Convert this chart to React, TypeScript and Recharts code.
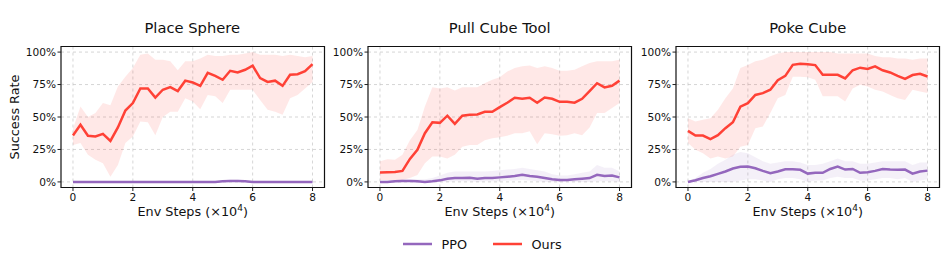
import { Area, CartesianGrid, ComposedChart, Line, ReferenceArea, XAxis, YAxis } from 'recharts'

const steps = [0, 0.25, 0.5, 0.75, 1, 1.25, 1.5, 1.75, 2, 2.25, 2.5, 2.75, 3, 3.25, 3.5, 3.75, 4, 4.25, 4.5, 4.75, 5, 5.25, 5.5, 5.75, 6, 6.25, 6.5, 6.75, 7, 7.25, 7.5, 7.75, 8]
const xTicks = [0, 2, 4, 6, 8]
const yTicks = [0, 25, 50, 75, 100]
const titles = ['Place Sphere', 'Pull Cube Tool', 'Poke Cube']

// Place Sphere
const sphereOurs = [35.7, 44, 35.5, 35, 37, 31.6, 42, 55, 60.7, 72, 72, 65, 71, 73, 70, 78, 76.6, 74, 84, 81.7, 78.7, 85.6, 84.3, 86.4, 89.5, 80, 77, 78, 74, 82.5, 83, 85.3, 90.7]
const sphereOursLo = [28.5, 30, 21, 17, 14.4, 4, 13, 30, 35, 46.5, 46, 36, 50, 54, 54, 64.5, 62, 56, 67, 66, 60.7, 71, 71, 71, 71, 63, 55.5, 54, 51.7, 64.5, 67, 72, 77]
const sphereOursHi = [41, 58, 50, 53, 60.7, 59, 73.5, 81, 87.7, 98, 99, 94, 94, 93, 86, 93, 93, 95, 98, 97, 97, 98, 98, 99, 100, 98, 98, 98, 97, 98, 97, 96, 97]
const spherePpo = [0, 0, 0, 0, 0, 0, 0, 0, 0, 0, 0, 0, 0, 0, 0, 0, 0, 0, 0, 0, 0.5, 0.8, 0.8, 0.5, 0, 0, 0, 0, 0, 0, 0, 0, 0]
const spherePpoLo = [0, 0, 0, 0, 0, 0, 0, 0, 0, 0, 0, 0, 0, 0, 0, 0, 0, 0, 0, 0, 0, 0, 0, 0, 0, 0, 0, 0, 0, 0, 0, 0, 0]
const spherePpoHi = [0, 0, 0, 0, 0, 0, 0, 0, 0, 0, 0, 0, 0, 0, 0, 0, 0, 0, 0, 0, 1.2, 1.6, 1.6, 1.2, 0, 0, 0, 0, 0, 0, 0, 0, 0]

// Pull Cube Tool
const pullOurs = [7.2, 7.5, 7.7, 8.5, 17.7, 24.7, 37.5, 46, 45.5, 51, 44.7, 51, 51.7, 52, 54, 54, 57.6, 61, 64.8, 64, 64.8, 61, 65, 64, 61.7, 61.7, 61, 64, 70, 76, 72.8, 74, 78]
const pullOursLo = [1.5, 1.5, 1.5, 1.5, 3, 5.4, 14.4, 19.5, 19.5, 18, 21, 27, 28.5, 28.5, 32, 33.7, 34.4, 35.5, 37.5, 37.5, 39, 29, 37.5, 36.8, 35.5, 36, 37.5, 36, 42, 53, 53, 57, 60.7]
const pullOursHi = [16, 17.5, 17, 21, 32, 40, 58, 73, 72, 73, 70.4, 73, 73, 73, 76, 78.6, 80.7, 85, 87.7, 89, 89.7, 87.7, 89, 87.7, 85.6, 85.6, 86.4, 89, 91.5, 93, 93, 93, 94]
const pullPpo = [0, 0, 0.5, 0.8, 0.8, 0.5, 0, 0.5, 1.2, 2.5, 3, 3, 3.2, 2.5, 3, 3, 3.5, 4, 4.5, 5.5, 4.5, 4, 3, 2, 1.5, 1.5, 2, 2.5, 3, 5.5, 4.5, 5, 3.5]
const pullPpoLo = [0, 0, 0, 0, 0, 0, 0, 0, 0, 0, 0.5, 0.5, 0.5, 0, 0.5, 0.5, 0.5, 1, 1, 1.5, 1, 0.5, 0, 0, 0, 0, 0, 0, 0, 0.5, 0.5, 0.5, 0]
const pullPpoHi = [0.5, 1, 1.5, 2, 2, 2, 2, 3, 5, 7, 8, 8, 8, 8, 8, 8.5, 9, 9.5, 10, 11, 10, 9, 8, 6, 5, 5, 6, 7, 8, 13, 11, 11, 8]

// Poke Cube
const pokeOurs = [39.3, 35.7, 35.7, 33, 36, 41.4, 46, 58, 60.7, 67, 68.4, 71, 78.4, 81.7, 90.2, 91, 90.7, 90, 82.5, 82.5, 82.5, 79.7, 86, 88, 87, 89, 86, 84.3, 81.7, 79.4, 82.3, 83.3, 81.2]
const pokeOursLo = [30, 24.7, 22, 18, 19.5, 18, 19.5, 27, 28.5, 41.4, 42.7, 53, 64.5, 67, 81, 81, 80.7, 78.7, 66, 66, 66, 62, 72, 74.8, 73.5, 71, 69.7, 67, 64.5, 63, 71, 69.7, 68.4]
const pokeOursHi = [49, 46.5, 47.8, 49, 55.5, 64.5, 72, 87.7, 90, 93, 94, 96.7, 99, 100, 100, 100, 100, 100, 100, 100, 99, 99, 99, 99, 99, 97, 96, 96, 95, 95, 94, 95, 95]
const pokePpo = [0, 1.3, 3, 4.4, 6.2, 8, 10.3, 11.6, 11.8, 10.5, 8.5, 6.7, 8, 9.8, 9.8, 9.3, 6.4, 7, 7, 10, 11.8, 9.5, 10, 7, 7.5, 8.5, 10, 9.5, 9.3, 9.5, 6.4, 8, 8.7]
const pokePpoLo = [0, 0, 0, 0, 0, 0, 0, 1, 2, 2, 1, 0, 2, 3, 3, 2, 0, 1, 1, 3, 4, 3, 3, 1, 1, 2, 3, 3, 2, 3, 0, 1, 2]
const pokePpoHi = [0.5, 3, 7, 10, 14, 17, 21, 23, 22, 19, 16, 14, 15, 16, 16, 15, 13, 13, 14, 16, 18, 16, 16, 14, 14, 15, 16, 16, 16, 16, 13, 15, 15]

const PPO_COLOR = '#9467bd'
const OURS_COLOR = '#ff4136'
const FONT = '"DejaVu Sans", sans-serif'
const Y_DOMAIN = [-4.3, 104.3]
const X_DOMAIN = [-0.4, 8.4]

type Panel = {
  title: string
  ours: number[]; oursLo: number[]; oursHi: number[]
  ppo: number[]; ppoLo: number[]; ppoHi: number[]
}

const panels: Panel[] = [
  { title: titles[0], ours: sphereOurs, oursLo: sphereOursLo, oursHi: sphereOursHi, ppo: spherePpo, ppoLo: spherePpoLo, ppoHi: spherePpoHi },
  { title: titles[1], ours: pullOurs, oursLo: pullOursLo, oursHi: pullOursHi, ppo: pullPpo, ppoLo: pullPpoLo, ppoHi: pullPpoHi },
  { title: titles[2], ours: pokeOurs, oursLo: pokeOursLo, oursHi: pokeOursHi, ppo: pokePpo, ppoLo: pokePpoLo, ppoHi: pokePpoHi },
]

const PLOT_LEFT = [60.5, 368, 676]
const PLOT_W = 263.5
const PLOT_TOP = 46.5
const PLOT_BOTTOM = 187.5
const Y_AXIS_W = 60
const X_AXIS_H = 30
const H = 263

const TICK = { fontSize: 10.6, fill: '#111', fontFamily: FONT }

function XLabel({ viewBox }: any) {
  const cx = viewBox.x + viewBox.width / 2
  return (
    <text x={cx} y={216} textAnchor="middle" fontSize={12.8} fontFamily={FONT} fill="#111">
      Env Steps (×10<tspan fontSize={9} dy={-5}>4</tspan><tspan dy={5}>)</tspan>
    </text>
  )
}

function YLabel({ viewBox }: any) {
  const cy = viewBox.y + viewBox.height / 2
  return (
    <text x={0} y={0} transform={`translate(18, ${cy}) rotate(-90)`} textAnchor="middle"
          fontSize={12.8} fontFamily={FONT} fill="#111">Success Rate</text>
  )
}

function PanelChart({ p, idx }: { p: Panel; idx: number }) {
  const data = steps.map((s, i) => ({
    step: s,
    ours: p.ours[i],
    oursBand: [p.oursLo[i], p.oursHi[i]],
    ppo: p.ppo[i],
    ppoBand: [p.ppoLo[i], p.ppoHi[i]],
  }))
  const left = PLOT_LEFT[idx] - Y_AXIS_W
  const width = Y_AXIS_W + PLOT_W + 4
  return (
    <div style={{ position: 'absolute', left, top: 0, width, height: H }}>
      <div style={{ position: 'absolute', left: Y_AXIS_W, width: PLOT_W, top: 18, textAlign: 'center',
                    fontFamily: FONT, fontSize: 14.7, color: '#111', lineHeight: '20px' }}>
        {p.title}
      </div>
      <ComposedChart width={width} height={H} data={data}
                     margin={{ top: PLOT_TOP, right: 4, left: 0, bottom: H - PLOT_BOTTOM - X_AXIS_H }}>
        <CartesianGrid stroke="#bbb" strokeDasharray="3 3" strokeWidth={0.6}
                       horizontalValues={yTicks} verticalValues={xTicks} />
        <XAxis dataKey="step" type="number" domain={X_DOMAIN} ticks={xTicks} height={X_AXIS_H}
               tick={TICK} tickLine={{ stroke: '#222' }} tickSize={3.5} tickMargin={2} axisLine={false}
               allowDataOverflow label={<XLabel />} />
        <YAxis type="number" domain={Y_DOMAIN} ticks={yTicks} width={Y_AXIS_W} tick={TICK}
               tickFormatter={(v: number) => `${v}%`} tickLine={{ stroke: '#222' }} tickSize={3.5}
               tickMargin={1.5} axisLine={false} allowDataOverflow
               label={idx === 0 ? <YLabel /> : undefined} />
        <Area dataKey="oursBand" stroke="none" fill={OURS_COLOR} fillOpacity={0.12} isAnimationActive={false} />
        <Area dataKey="ppoBand" stroke="none" fill={PPO_COLOR} fillOpacity={0.1} isAnimationActive={false} />
        <Line dataKey="ppo" stroke={PPO_COLOR} strokeWidth={2.5} dot={false} isAnimationActive={false} />
        <Line dataKey="ours" stroke={OURS_COLOR} strokeWidth={2.5} dot={false} isAnimationActive={false} />
        <ReferenceArea x1={X_DOMAIN[0]} x2={X_DOMAIN[1]} y1={Y_DOMAIN[0]} y2={Y_DOMAIN[1]}
                       fill="none" stroke="#111" strokeWidth={1.2} ifOverflow="visible" />
      </ComposedChart>
    </div>
  )
}

function LegendItem({ color, label, x }: { color: string; label: string; x: number }) {
  return (
    <div style={{ position: 'absolute', left: x, top: 234, height: 20, display: 'flex', alignItems: 'center' }}>
      <svg width={29} height={4} style={{ marginRight: 10 }}>
        <line x1={0} y1={2} x2={29} y2={2} stroke={color} strokeWidth={2.5} />
      </svg>
      <span style={{ fontFamily: FONT, fontSize: 12.8, color: '#111' }}>{label}</span>
    </div>
  )
}

export default function App() {
  return (
    <div style={{ position: 'absolute', left: 0, top: 0, width: 947, height: H, background: '#fff', overflow: 'hidden' }}>
      {panels.map((p, i) => <PanelChart key={p.title} p={p} idx={i} />)}
      <LegendItem color={PPO_COLOR} label="PPO" x={402.5} />
      <LegendItem color={OURS_COLOR} label="Ours" x={492.5} />
    </div>
  )
}
